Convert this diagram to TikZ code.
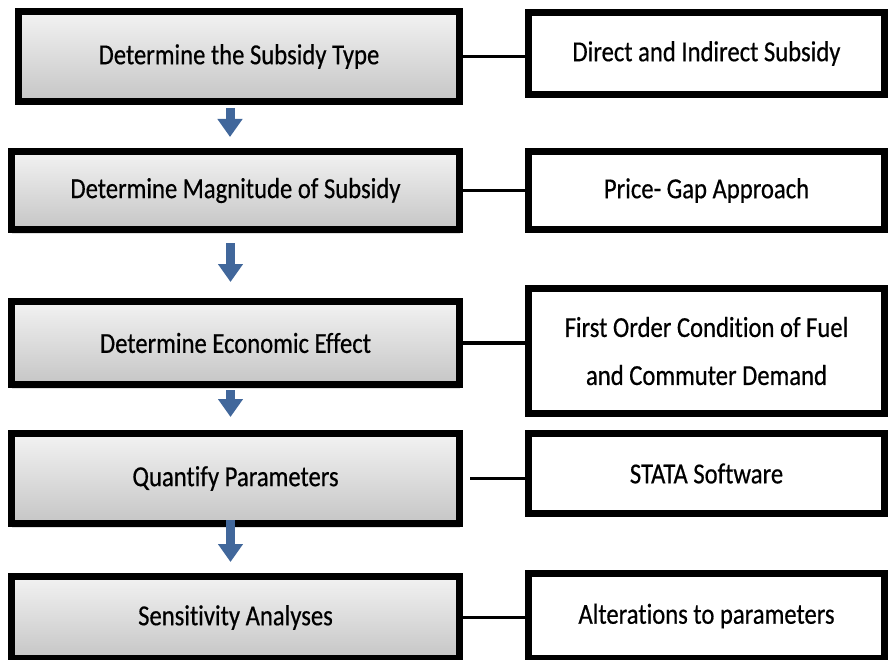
\documentclass[tikz,border=0pt]{standalone}
\usepackage{fontspec}
\setmainfont{Carlito}[FakeStretch=0.85, FakeBold=0.5, Ligatures=NoCommon]
\usepackage{tikz}
\usepackage{xcolor}
\usetikzlibrary{arrows.meta,positioning,shadows}

\definecolor{stepblue}{HTML}{41679B}

\begin{document}
\begin{tikzpicture}[
  x=1pt, y=-1pt,
  font=\fontsize{29}{48}\selectfont,
  stage/.style={draw, line width=7pt, inner sep=0pt, minimum width=448pt,
                align=center, top color=gray!10, bottom color=gray!45,
                drop shadow={shadow xshift=0pt, shadow yshift=-4pt, opacity=.25}},
  method/.style={draw, line width=7pt, inner sep=0pt, minimum width=356pt,
                 align=center, fill=white},
  link/.style={line width=3.5pt},
  down/.style={line width=9pt, stepblue, -{Triangle[width=24pt,length=18pt]}}
]
  \useasboundingbox (0,0) rectangle (890,660);

  \node[stage, minimum width=441pt, minimum height=90pt] (subtype) at (239,56.5) {Determine the Subsidy Type};
  \node[stage, minimum height=78pt] (magnitude) at (235.5,190.5) {Determine Magnitude of Subsidy};
  \node[stage, minimum height=83pt] (effect) at (235.5,343) {Determine Economic Effect};
  \node[stage, minimum height=90pt] (quantify) at (235.5,478.5) {Quantify Parameters};
  \node[stage, minimum height=82pt] (sensitivity) at (235.5,617.5) {Sensitivity Analyses};

  \node[method, minimum height=82pt] (direct) at (706.5,53.5) {Direct and Indirect Subsidy};
  \node[method, minimum height=78pt] (pricegap) at (706.5,190.5) {Price- Gap Approach};
  \node[method, minimum height=125pt] (foc) at (706.5,351) {First Order Condition of Fuel\\and Commuter Demand};
  \node[method, minimum height=80pt] (stata) at (706.5,473.5) {STATA Software};
  \node[method, minimum height=85pt] (alter) at (706.5,616) {Alterations to parameters};

  % links to the methods
  \draw[link] (subtype.east) -- (subtype.east -| direct.west);
  \draw[link] (magnitude.east) -- (magnitude.east -| pricegap.west);
  \draw[link] (effect.east) -- (effect.east -| foc.west);
  \draw[link] ([xshift=7pt]quantify.east) -- (quantify.east -| stata.west);
  \draw[link] (sensitivity.east) -- (sensitivity.east -| alter.west);

  % steps
  \draw[down, shorten >=11pt] ([xshift=-9pt,yshift=-3pt]subtype.south) -- ([xshift=-9pt]subtype.south |- magnitude.north);
  \draw[down, shorten >=16pt] ([xshift=-5pt,yshift=-10pt]magnitude.south) -- ([xshift=-5pt]magnitude.south |- effect.north);
  \draw[down, shorten >=13pt] ([xshift=-5pt,yshift=-2pt]effect.south) -- ([xshift=-5pt]effect.south |- quantify.north);
  \draw[down, shorten >=11pt] ([xshift=-5pt,yshift=7pt]quantify.south) -- ([xshift=-5pt]quantify.south |- sensitivity.north);
\end{tikzpicture}
\end{document}
